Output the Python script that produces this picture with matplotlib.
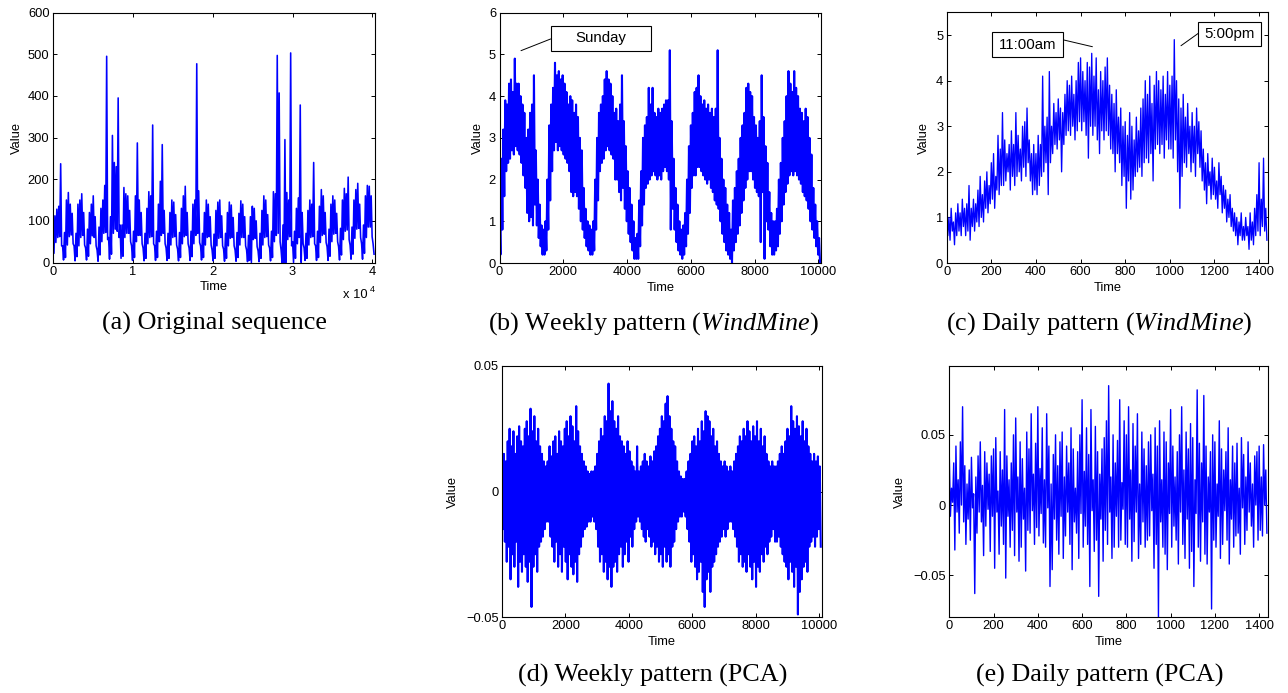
import numpy as np
import matplotlib.pyplot as plt
from matplotlib.patches import Rectangle

plt.rcParams['font.family'] = ['Liberation Sans', 'DejaVu Sans']
plt.rcParams['mathtext.fontset'] = 'custom'
plt.rcParams['mathtext.rm'] = 'Liberation Serif'
plt.rcParams['mathtext.it'] = 'Liberation Serif:italic'

# Each trace is kept as alternating peaks (hi) and troughs (lo).
# (a) original sequence, 28 days, one hi/lo pair every 240 ticks
orig_hi = [95, 112, 128, 135, 237, 40,
           72, 150, 168, 140, 118, 40,
           70, 140, 150, 165, 120, 35,
           80, 120, 140, 160, 110, 30,
           85, 130, 150, 185, 495, 60,
           110, 305, 240, 230, 395, 90,
           90, 180, 165, 160, 125, 40,
           75, 160, 287, 150, 120, 35,
           70, 130, 170, 160, 330, 40,
           75, 140, 195, 283, 125, 35,
           70, 120, 150, 145, 115, 32,
           72, 130, 160, 183, 120, 35,
           75, 140, 150, 477, 172, 40,
           70, 120, 150, 140, 110, 30,
           68, 125, 145, 150, 112, 32,
           70, 120, 145, 138, 108, 30,
           72, 118, 148, 140, 110, 30,
           65, 110, 135, 130, 100, 28,
           70, 125, 160, 150, 115, 35,
           75, 170, 165, 497, 407, 30,
           90, 295, 168, 150, 503, 50,
           75, 130, 155, 378, 120, 35,
           70, 125, 150, 140, 240, 40,
           75, 135, 175, 160, 120, 38,
           80, 140, 160, 150, 118, 38,
           82, 150, 178, 165, 205, 42,
           85, 150, 175, 190, 140, 45,
           90, 160, 185, 183, 160, 45]
orig_lo = [22, 48, 60, 62, 40, 6,
           12, 42, 62, 66, 45, 4,
           14, 40, 60, 65, 42, 6,
           15, 45, 64, 60, 40, 3,
           18, 50, 70, 72, 55, 8,
           20, 70, 80, 75, 60, 10,
           15, 60, 70, 70, 50, 5,
           12, 50, 65, 65, 45, 4,
           10, 45, 60, 62, 45, 5,
           12, 50, 65, 70, 45, 5,
           10, 42, 60, 62, 42, 4,
           12, 45, 62, 65, 45, 5,
           14, 45, 65, 70, 48, 6,
           12, 42, 60, 62, 42, 4,
           10, 40, 58, 60, 40, 3,
           10, 40, 58, 60, 40, 3,
           12, 42, 60, 60, 40, 2,
           5, 0, 55, 58, 38, 2,
           10, 42, 60, 62, 42, 4,
           12, 50, 65, 70, 50, 0,
           0, 0, 55, 62, 40, 0,
           10, 45, 60, 0, 45, 5,
           10, 42, 60, 62, 45, 5,
           12, 48, 65, 68, 48, 5,
           15, 50, 68, 70, 50, 6,
           18, 55, 75, 78, 55, 8,
           20, 58, 80, 82, 60, 8,
           22, 60, 85, 85, 62, 20]

# (b) weekly pattern, values x10, one pair per hour
week_hi = [12, 25, 32, 39, 38, 43, 44, 41, 49, 43, 43, 40, 38, 36, 30, 32, 36, 38, 45, 27, 20, 14, 9, 8,
           10, 20, 33, 38, 42, 48, 45, 46, 44, 45, 43, 41, 38, 40, 39, 36, 38, 35, 30, 27, 18, 13, 10, 9,
           8, 10, 20, 30, 36, 38, 40, 44, 46, 44, 43, 40, 36, 37, 34, 38, 45, 34, 28, 22, 18, 14, 10, 6,
           7, 15, 22, 30, 33, 35, 42, 38, 42, 36, 35, 37, 36, 37, 38, 39, 39, 51, 34, 25, 18, 14, 10, 8,
           9, 12, 20, 28, 33, 36, 41, 42, 45, 40, 38, 39, 37, 38, 36, 37, 35, 37, 51, 30, 25, 20, 18, 14,
           12, 8, 15, 18, 22, 25, 30, 33, 36, 42, 43, 41, 40, 35, 33, 30, 34, 45, 35, 28, 24, 17, 12, 10,
           10, 13, 20, 24, 30, 34, 40, 46, 43, 41, 46, 42, 40, 37, 36, 34, 37, 35, 30, 26, 18, 14, 10, 6]
week_lo = [2, 8, 16, 22, 24, 25, 27, 26, 28, 27, 26, 24, 21, 18, 12, 10, 11, 9, 14, 9, 6, 4, 2, 2,
           3, 8, 15, 22, 27, 29, 27, 28, 27, 26, 25, 24, 22, 17, 16, 17, 16, 13, 10, 8, 6, 4, 3, 2,
           2, 3, 8, 15, 22, 24, 25, 27, 28, 27, 26, 25, 20, 20, 17, 15, 18, 13, 10, 7, 5, 3, 1, 1,
           1, 4, 9, 14, 18, 19, 20, 21, 22, 21, 20, 21, 20, 22, 23, 22, 20, 8, 13, 8, 5, 3, 2, 1,
           2, 4, 7, 12, 18, 21, 21, 23, 23, 22, 21, 20, 19, 20, 18, 17, 15, 14, 13, 10, 7, 5, 3, 2,
           1, 0, 3, 5, 7, 9, 12, 15, 18, 20, 22, 22, 20, 18, 17, 16, 5, 17, 1, 10, 8, 4, 2, 2,
           3, 4, 7, 10, 14, 17, 19, 21, 22, 21, 22, 21, 20, 19, 17, 16, 15, 13, 10, 8, 6, 4, 2, 0]

# (c) daily pattern, values x10, one pair every 10 ticks
day_hi = [11, 10, 12, 9, 11, 13, 11, 14, 12, 13,
          17, 12, 14, 13, 16, 19, 15, 18, 20, 17,
          22, 24, 19, 28, 25, 33, 27, 24, 26, 29,
          26, 33, 28, 25, 30, 31, 34, 27, 24, 26,
          24, 28, 26, 41, 30, 32, 42, 30, 35, 33,
          36, 34, 33, 37, 40, 39, 41, 37, 40, 44,
          45, 42, 40, 44, 43, 46, 41, 45, 38, 42,
          40, 43, 45, 39, 37, 35, 38, 32, 34, 30,
          31, 28, 33, 30, 27, 32, 29, 34, 36, 40,
          37, 41, 35, 39, 42, 40, 38, 41, 37, 42,
          39, 41, 49, 40, 36, 34, 37, 32, 35, 30,
          33, 30, 34, 31, 29, 25, 22, 24, 20, 23,
          21, 18, 22, 19, 17, 16, 14, 15, 12, 11,
          10, 9, 11, 8, 10, 8, 11, 9, 12, 15,
          22, 14, 23, 12]
day_lo = [6, 5, 7, 4, 6, 7, 6, 8, 6, 7,
          5, 8, 7, 9, 8, 10, 9, 12, 11, 13,
          14, 12, 16, 15, 17, 17, 18, 20, 16, 19,
          17, 19, 20, 18, 21, 19, 22, 18, 15, 16,
          15, 17, 19, 20, 22, 15, 22, 24, 26, 25,
          27, 20, 26, 28, 29, 28, 30, 27, 29, 31,
          29, 31, 28, 23, 30, 28, 30, 27, 24, 29,
          27, 29, 28, 25, 24, 20, 24, 22, 17, 19,
          12, 18, 14, 16, 19, 20, 21, 19, 22, 23,
          22, 24, 18, 25, 26, 24, 26, 23, 27, 25,
          25, 23, 27, 20, 12, 19, 22, 21, 24, 20,
          22, 19, 24, 21, 18, 16, 13, 17, 14, 15,
          14, 12, 15, 11, 12, 9, 10, 8, 7, 6,
          4, 6, 5, 5, 6, 3, 5, 4, 6, 7,
          6, 8, 7, 5]

# (d) weekly pattern from PCA, values x1000, one pair per hour
pca_week_hi = [8, 15, 12, 20, 25, 18, 24, 15, 22, 26, 20, 18, 25, 28, 22, 33, 24, 30, 20, 25, 18, 15, 12, 10,
               12, 18, 14, 20, 22, 15, 24, 20, 18, 25, 28, 22, 30, 26, 20, 34, 24, 18, 15, 12, 10, 8, 7, 8,
               8, 10, 15, 20, 25, 22, 30, 28, 43, 32, 36, 28, 25, 30, 22, 20, 18, 15, 20, 16, 12, 10, 8, 18,
               8, 10, 12, 15, 12, 10, 14, 12, 16, 18, 22, 25, 30, 28, 35, 38, 30, 25, 20, 18, 12, 8, 6, 5,
               5, 8, 12, 15, 20, 22, 18, 25, 20, 28, 24, 32, 30, 28, 22, 25, 18, 20, 15, 12, 10, 12, 10, 8,
               10, 8, 12, 15, 18, 22, 20, 25, 22, 28, 24, 20, 26, 22, 28, 20, 25, 18, 22, 15, 12, 10, 12, 10,
               10, 12, 15, 18, 15, 20, 25, 22, 34, 28, 25, 30, 26, 22, 28, 20, 25, 18, 15, 12, 15, 12, 14, 10]
pca_week_lo = [-15, -20, -28, -22, -35, -25, -30, -20, -38, -28, -32, -25, -30, -36, -28, -46, -30, -25, -32, -22, -20, -18, -15, -12,
               -12, -18, -22, -28, -20, -30, -25, -32, -22, -28, -35, -25, -30, -33, -28, -36, -25, -22, -18, -15, -14, -12, -12, -10,
               -12, -15, -22, -28, -25, -32, -28, -35, -30, -38, -30, -28, -32, -25, -22, -30, -25, -20, -28, -18, -22, -15, -12, -10,
               -12, -15, -18, -20, -15, -18, -22, -20, -25, -22, -28, -25, -30, -22, -28, -25, -30, -22, -20, -15, -12, -10, -10, -8,
               -10, -15, -20, -28, -25, -30, -35, -32, -28, -40, -46, -35, -32, -40, -30, -28, -25, -22, -20, -18, -15, -18, -15, -12,
               -12, -15, -18, -22, -28, -25, -30, -28, -32, -25, -30, -35, -28, -38, -30, -32, -25, -28, -22, -25, -20, -18, -15, -20,
               -20, -18, -22, -25, -28, -30, -35, -28, -32, -38, -30, -49, -40, -35, -30, -28, -32, -22, -20, -18, -22, -18, -15, -22]

# (e) daily pattern from PCA, values x1000, one pair every 10 ticks
pca_day_hi = [35, 12, 30, 42, 18, 45, 70, 28, 15, 25,
              34, 8, 20, 35, 45, 14, 38, 30, 22, 35,
              40, 48, 10, 38, 25, 68, 35, 18, 30, 50,
              62, 20, 45, 33, 12, 52, 40, 65, 22, 44,
              70, 26, 55, 18, 65, 42, 15, 36, 50, 28,
              45, 52, 20, 42, 30, 55, 40, 12, 38, 50,
              75, 24, 55, 36, 68, 18, 56, 38, 22, 40,
              48, 60, 85, 20, 50, 30, 46, 75, 16, 60,
              50, 70, 25, 58, 42, 65, 15, 52, 40, 28,
              45, 50, 22, 55, 42, 60, 18, 52, 45, 30,
              68, 42, 20, 38, 50, 70, 25, 52, 40, 58,
              48, 18, 82, 44, 30, 78, 42, 20, 38, 50,
              45, 15, 60, 40, 25, 38, 55, 18, 42, 30,
              44, 12, 48, 36, 20, 45, 30, 15, 35, 38,
              42, 20, 43, 25]
pca_day_lo = [-8, 2, -32, -5, -20, 0, -12, -28, -10, -25,
              -2, -63, -20, -5, -12, -36, -15, -3, -33, -8,
              -45, -5, -35, -15, -28, -52, -8, -30, -18, -36,
              -5, -40, -30, -10, -47, -18, -20, -4, -28, -16,
              -22, -6, -27, -30, -2, -58, -46, -10, -25, -35,
              -8, -38, -22, -5, -28, -46, -12, -20, -38, -6,
              -30, -15, -28, -58, -4, -33, -25, -65, -10, -40,
              -18, -28, -5, -38, -30, -8, -30, -25, -3, -28,
              -30, -10, -40, -26, -5, -38, -28, -12, -30, -25,
              -22, -4, -45, -28, -80, -12, -30, -35, -46, -6,
              -30, -15, -25, -42, -5, -28, -38, -10, -45, -33,
              -58, -6, -30, -40, -12, -35, -42, -5, -74, -25,
              -30, -8, -38, -28, -4, -25, -42, -10, -30, -22,
              -20, -35, -2, -28, -18, -5, -15, -30, 0, -25,
              -18, -22, 0, -20]


def trace(hi, lo, step, scale):
    n = len(hi)
    t = np.arange(2 * n) * step / 2
    v = np.empty(2 * n)
    v[0::2] = hi
    v[1::2] = lo
    return t, v / scale


def setup(ax, ylab_dx):
    for s in ax.spines.values():
        s.set_linewidth(0.8)
    ax.tick_params(direction='in', top=True, right=True, length=3,
                   width=0.7, labelsize=9.3, pad=2.5)
    ax.set_xlabel('Time', fontsize=9.3, va='center')
    ax.set_ylabel('Value', fontsize=9.3, va='center')
    ax.xaxis.set_label_coords(0.5, -24.5 / 250)
    ax.yaxis.set_label_coords(-ylab_dx, 0.5)


def note(ax, label, box, start, end):
    x0, x1, y0, y1 = box
    ax.add_patch(Rectangle((x0, y0), x1 - x0, y1 - y0, transform=ax.transAxes,
                           facecolor='white', edgecolor='black', lw=0.8,
                           clip_on=False, zorder=5))
    ax.text((x0 + x1) / 2, (y0 + y1) / 2, label, transform=ax.transAxes,
            ha='center', va='center', fontsize=10.8, zorder=6)
    ax.annotate('', xy=end, xycoords='data', xytext=start,
                textcoords='axes fraction',
                arrowprops=dict(arrowstyle='-', lw=0.7, color='black',
                                shrinkA=0, shrinkB=0))


W, H = 1288, 693
fig = plt.figure(figsize=(W / 100, H / 100), dpi=100)
blue = (0, 0, 1)

# (a)
ax = fig.add_axes([53 / W, 1 - 262.5 / H, 322 / W, 250 / H])
t, v = trace(orig_hi, orig_lo, 240, 1)
ax.plot(t, v, color=blue, lw=1.15)
ax.set_xlim(0, 40320)
ax.set_ylim(0, 600)
ax.set_xticks([0, 10000, 20000, 30000, 40000])
ax.set_xticklabels(['0', '1', '2', '3', '4'])
ax.set_yticks(range(0, 601, 100))
setup(ax, 36.3 / 322)
fig.text(368 / W, 1 - 297.5 / H, 'x 10', ha='right', va='baseline', fontsize=9.3)
fig.text(369.5 / W, 1 - 292 / H, '4', ha='left', va='baseline', fontsize=6.5)

# (b)
ax = fig.add_axes([499.5 / W, 1 - 263 / H, 321.5 / W, 250.3 / H])
t, v = trace(week_hi, week_lo, 60, 10)
ax.plot(t, v, color=blue, lw=1.5)
ax.set_xlim(0, 10080)
ax.set_ylim(0, 6)
ax.set_xticks(range(0, 10001, 2000))
setup(ax, 21.8 / 321.5)
note(ax, 'Sunday', (0.159, 0.471, 0.848, 0.948), (0.159, 0.895), (674, 5.09))

# (c)
ax = fig.add_axes([946.7 / W, 1 - 263 / H, 321.3 / W, 250.7 / H])
t, v = trace(day_hi, day_lo, 10, 10)
ax.plot(t, v, color=blue, lw=0.95)
ax.set_xlim(0, 1440)
ax.set_ylim(0, 5.5)
ax.set_xticks(range(0, 1401, 200))
ax.set_yticks(range(0, 6))
setup(ax, 22.4 / 321.3)
note(ax, '11:00am', (0.140, 0.363, 0.823, 0.920), (0.363, 0.890), (653, 4.745))
note(ax, '5:00pm', (0.783, 0.978, 0.867, 0.963), (0.783, 0.916), (1050, 4.767))

ticks_pm = ['\u22120.05', '0', '0.05']

# (d)
ax = fig.add_axes([502 / W, 1 - 617 / H, 319.7 / W, 251 / H])
t, v = trace(pca_week_hi, pca_week_lo, 60, 1000)
ax.plot(t, v, color=blue, lw=1.5)
ax.set_xlim(0, 10080)
ax.set_ylim(-0.05, 0.05)
ax.set_xticks(range(0, 10001, 2000))
ax.set_yticks([-0.05, 0, 0.05])
ax.set_yticklabels(ticks_pm)
setup(ax, 48.7 / 319.7)

# (e)
ax = fig.add_axes([949.3 / W, 1 - 617 / H, 318.7 / W, 251 / H])
t, v = trace(pca_day_hi, pca_day_lo, 10, 1000)
ax.plot(t, v, color=blue, lw=1.0)
ax.set_xlim(0, 1440)
ax.set_ylim(-0.0797, 0.099)
ax.set_xticks(range(0, 1401, 200))
ax.set_yticks([-0.05, 0, 0.05])
ax.set_yticklabels(ticks_pm)
setup(ax, 49.3 / 318.7)

# captions under each panel
cap = dict(ha='center', va='baseline', fontsize=18.8, family='Liberation Serif')
fig.text(214 / W, 1 - 330 / H, '(a) Original sequence', **cap)
fig.text(653 / W, 1 - 330 / H, r'(b) Weekly pattern ($\mathit{WindMine}$)', **cap)
fig.text(1099 / W, 1 - 330 / H, r'(c) Daily pattern ($\mathit{WindMine}$)', **cap)
fig.text(653 / W, 1 - 682 / H, '(d) Weekly pattern (PCA)', **cap)
fig.text(1100 / W, 1 - 682 / H, '(e) Daily pattern (PCA)', **cap)

fig.savefig('out.png', dpi=100)
